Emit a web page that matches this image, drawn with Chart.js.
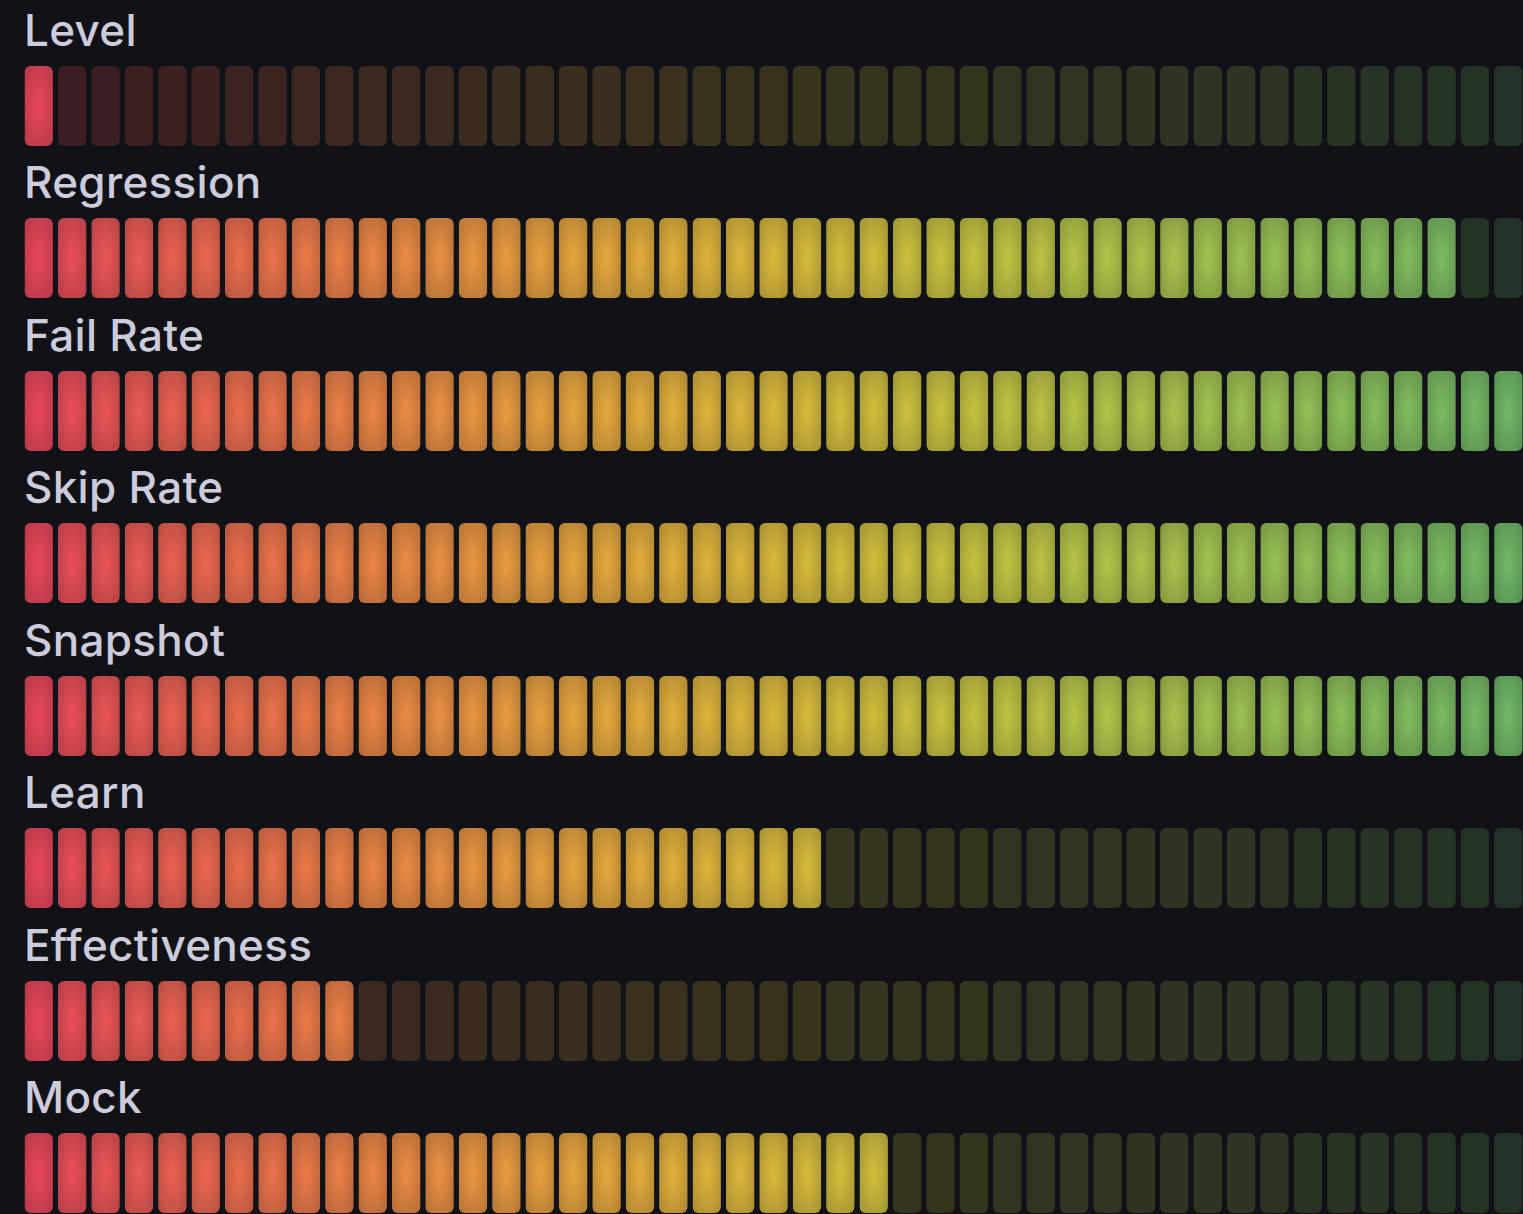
<!DOCTYPE html>
<html>
<head>
<meta charset="utf-8">
<script src="https://cdn.jsdelivr.net/npm/chart.js@4.4.1/dist/chart.umd.min.js"></script>
<style>
  html, body { margin: 0; padding: 0; background: #111217; overflow: hidden; width: 1523px; height: 1214px; }
  .row-label { position: absolute; left: 24px; font: 500 44px Inter, sans-serif; line-height: 44px; letter-spacing: 0.3px; color: #ccccdc; white-space: nowrap; }
  .row-canvas { position: absolute; left: 22px; }
</style>
</head>
<body>
<div id="root"></div>
<script>
// gauge rows (value in %)
const rowLabels = ['Level', 'Regression', 'Fail Rate', 'Skip Rate', 'Snapshot', 'Learn', 'Effectiveness', 'Mock'];
const rowValues = [2, 96, 100, 100, 100, 53, 22, 58];
const cellCount = 45;
const cellLabels = Array.from({ length: cellCount }, (_, i) => String(i + 1));
// red -> yellow -> green (continuous scheme)
const schemeColors = ['#F2495C', '#FADE2A', '#73BF69'];

const ROW_PITCH = 152.43;
const CELL_TOP = 66;
const CELL_H = 80;
const PITCH = 33.4;
const BAR_PCT = 0.848;

function hexToRgb(h) {
  const n = parseInt(h.slice(1), 16);
  return [(n >> 16) & 255, (n >> 8) & 255, n & 255];
}

// d3 style rgb basis interpolation
function basis(t1, v0, v1, v2, v3) {
  const t2 = t1 * t1, t3 = t2 * t1;
  return ((1 - 3 * t1 + 3 * t2 - t3) * v0 + (4 - 6 * t2 + 3 * t3) * v1 +
          (1 + 3 * t1 + 3 * t2 - 3 * t3) * v2 + t3 * v3) / 6;
}
function basisChannel(values, t) {
  const n = values.length - 1;
  let i;
  if (t <= 0) { t = 0; i = 0; } else if (t >= 1) { t = 1; i = n - 1; } else i = Math.floor(t * n);
  const v1 = values[i], v2 = values[i + 1];
  const v0 = i > 0 ? values[i - 1] : 2 * v1 - v2;
  const v3 = i < n - 1 ? values[i + 2] : 2 * v2 - v1;
  return basis((t - i / n) * n, v0, v1, v2, v3);
}
const schemeRgb = schemeColors.map(hexToRgb);
function schemeColor(t) {
  return [0, 1, 2].map(c => Math.max(0, Math.min(255, Math.round(basisChannel(schemeRgb.map(v => v[c]), t)))));
}
const cellColors = cellLabels.map((_, i) => schemeColor(i / (cellCount - 1)));
const rgba = (c, a) => `rgba(${c[0]}, ${c[1]}, ${c[2]}, ${a})`;

function cellFill(ctx, litCount) {
  const i = ctx.dataIndex;
  if (i === undefined) return 'transparent';
  const color = cellColors[i];
  if (i >= litCount) return rgba(color, 0.19);

  const chart = ctx.chart;
  const xs = chart.scales.x, ys = chart.scales.y;
  if (!xs || !ys) return rgba(color, 0.85);
  const pitch = xs.getPixelForValue(1) - xs.getPixelForValue(0);
  const w = pitch * BAR_PCT;
  const left = xs.getPixelForValue(i) - w / 2;
  const top = ys.getPixelForValue(1);
  const h = ys.getPixelForValue(0) - top;
  if (!(w >= 1 && h >= 1)) return rgba(color, 0.85);

  // radial glow, brighter in the middle of the cell
  const off = document.createElement('canvas');
  off.width = Math.ceil(w) + 1;
  off.height = Math.ceil(h) + 1;
  const g = off.getContext('2d');
  g.translate(w / 2, h / 2);
  g.scale(w / 2 * Math.SQRT2, h / 2 * Math.SQRT2);
  const grad = g.createRadialGradient(0, 0, 0, 0, 0, 1);
  grad.addColorStop(0.1, rgba(color, 0.95));
  grad.addColorStop(1, rgba(color, 0.72));
  g.fillStyle = grad;
  g.fillRect(-1, -1, 2, 2);

  const pat = chart.ctx.createPattern(off, 'no-repeat');
  pat.setTransform(new DOMMatrix([1, 0, 0, 1, left, top]));
  return pat;
}

const root = document.getElementById('root');
rowLabels.forEach((label, r) => {
  const rowTop = r * ROW_PITCH;

  const lbl = document.createElement('div');
  lbl.className = 'row-label';
  lbl.style.top = Math.round(rowTop + 8) + 'px';
  lbl.textContent = label;
  root.appendChild(lbl);

  const canvas = document.createElement('canvas');
  canvas.className = 'row-canvas';
  const cw = Math.round(PITCH * cellCount);
  canvas.width = cw; canvas.height = CELL_H;
  canvas.style.width = cw + 'px'; canvas.style.height = CELL_H + 'px';
  canvas.style.top = Math.round(rowTop + CELL_TOP) + 'px';
  root.appendChild(canvas);

  const litCount = Math.round(rowValues[r] / 100 * cellCount);

  new Chart(canvas.getContext('2d'), {
    type: 'bar',
    data: {
      labels: cellLabels,
      datasets: [{
        label,
        data: cellLabels.map(() => 1),
        backgroundColor: (ctx) => cellFill(ctx, litCount),
        borderWidth: 0,
        borderRadius: 6,
        borderSkipped: false,
        categoryPercentage: 1,
        barPercentage: BAR_PCT
      }]
    },
    options: {
      responsive: false,
      animation: false,
      devicePixelRatio: 1,
      events: [],
      layout: { padding: 0 },
      plugins: { legend: { display: false }, tooltip: { enabled: false } },
      scales: {
        x: { display: false, offset: true },
        y: { display: false, min: 0, max: 1 }
      }
    }
  });
});
</script>
</body>
</html>
